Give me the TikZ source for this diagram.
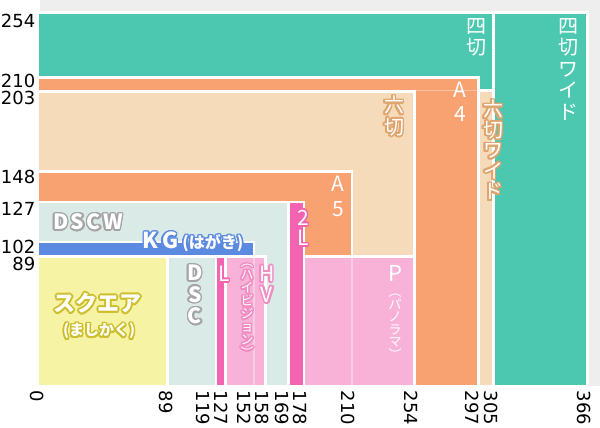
\documentclass[tikz,border=0pt]{standalone}
\usepackage{fontspec}
\setmainfont{DejaVu Sans}
\newfontfamily\jp{Noto Sans CJK JP}
\usepackage{contour}
\contourlength{1.6pt}
\contournumber{16}

\definecolor{backgrey}{RGB}{238,238,238}
\definecolor{yotsucol}{RGB}{76,200,176}
\definecolor{mutsucol}{RGB}{245,219,186}
\definecolor{acol}{RGB}{248,162,114}
\definecolor{dsccol}{RGB}{218,234,230}
\definecolor{kgcol}{RGB}{91,138,224}
\definecolor{hotpink}{RGB}{242,100,175}
\definecolor{softpink}{RGB}{248,178,215}
\definecolor{squarecol}{RGB}{246,243,165}
\definecolor{mutsuline}{RGB}{222,165,110}
\definecolor{dscline}{RGB}{165,165,165}
\definecolor{hvline}{RGB}{240,140,195}
\definecolor{squareline}{RGB}{205,190,45}

\tikzset{
  sheet/.style={draw=white, line width=2.6pt},
  ghost/.style={draw=white, line width=1.4pt, opacity=0.35},
  tick/.style={font=\fontsize{18}{18}\selectfont, inner sep=0pt},
  xtick/.style={tick, rotate=-90, anchor=west},
  ytick/.style={tick, anchor=east},
  tate/.style={align=center, inner sep=0pt, anchor=north, text=white},
  yoko/.style={inner sep=0pt, text=white},
}

\begin{document}
\begin{tikzpicture}[x=1pt, y=-1pt]
	\useasboundingbox (0,0) rectangle (600,428);
	%background
	\fill[backgrey] (40,-1) rectangle (601,386);
	
	%sheets, biggest first
	\foreach \r/\t/\c in {587.3/12.5/yotsucol, 493.2/12.5/yotsucol, 493.2/90.5/mutsucol,
		478.3/77.7/acol, 414.7/91.7/mutsucol, 352/171.7/acol, 414.7/256.7/softpink,
		304/202/hotpink, 288.3/202/dsccol, 254/242/kgcol, 265.3/256.7/softpink,
		225.7/256.7/hotpink, 216/256.7/dsccol, 167.3/256.7/squarecol}
	\draw[sheet, fill=\c] (38,386.6) rectangle (\r,\t);
	
	%hidden edges
	\draw[ghost] (414.7,90.5) -- (478.3,90.5);
	\draw[ghost] (352,256.7) -- (352,386.6);
	\draw[ghost] (254,256.7) -- (254,386.6);
	
	%y-tengely
	\foreach \lbl/\pos in {254/20.5, 210/81.2, 203/98.3, 148/176.7, 127/209, 102/246.7, 89/263.7}
	\node[ytick] (y\lbl) at (35.5,\pos) {\lbl};
	
	%x-tengely
	\foreach \lbl/\pos in {0/37.5, 89/166, 119/203.3, 127/220.7, 152/244, 158/261.7, 169/282.3,
		178/300, 210/348.3, 254/410.7, 297/472.3, 305/490.7, 366/584}
	\node[xtick] (x\lbl) at (\pos,390.7) {\lbl};
	
	%names
	\node[tate, font=\jp\fontsize{20}{21.5}\selectfont] (yotsuwide) at (568,18) {四\\切\\ワ\\イ\\ド};
	\node[tate, font=\jp\fontsize{20}{21.5}\selectfont] (yotsu) at (476,18) {四\\切};
	\node[tate, font=\jp\fontsize{21}{24}\selectfont] (afour) at (460,82) {A\\4};
	\node[tate, font=\jp\fontsize{20}{20.5}\selectfont] (mutsuwide) at (493,100)
	{\contour{mutsuline}{六}\\\contour{mutsuline}{切}\\\contour{mutsuline}{ワ}\\\contour{mutsuline}{イ}\\\contour{mutsuline}{ド}};
	\node[tate, font=\jp\fontsize{20}{21.5}\selectfont] (mutsu) at (394,96)
	{\contour{mutsuline}{六}\\\contour{mutsuline}{切}};
	\node[tate, font=\jp\fontsize{21}{25}\selectfont] (afive) at (338,176) {A\\5};
	\node[yoko, font=\jp\bfseries\fontsize{21}{21}\selectfont\addfontfeature{LetterSpace=12}] (dscw) at (88,222.7)
	{\contour{dscline}{DSCW}};
	\node[yoko, font=\jp\bfseries\fontsize{22}{22}\selectfont] (kg) at (193,243)
	{\contour{kgcol}{K\kern4pt G}\kern4pt{\fontsize{16}{16}\selectfont\contour{kgcol}{(はがき)}}};
	\node[tate, font=\jp\fontsize{21}{20.5}\selectfont] (twol) at (303,210)
	{\contour{hotpink}{2}\\\contour{hotpink}{L}};
	\node[tate, font=\jp\fontsize{22}{22}\selectfont] (pano) at (395,265) {P};
	\node[tate, font=\jp\fontsize{13}{12.5}\selectfont] (panoparen) at (395,294) {︵\\パ\\ノ\\ラ\\マ\\︶};
	\node[tate, font=\jp\fontsize{21}{21}\selectfont] (hv) at (267,266)
	{\contour{hvline}{H}\\\contour{hvline}{V}};
	\node[tate, font=\jp\fontsize{13}{13}\selectfont] (hivision) at (247,264)
	{\contourlength{1.1pt}\contour{hvline}{︵}\\\contour{hvline}{ハ}\\\contour{hvline}{イ}\\\contour{hvline}{ビ}\\\contour{hvline}{ジ}\\\contour{hvline}{ョ}\\\contour{hvline}{ン}\\\contour{hvline}{︶}};
	\node[tate, font=\jp\fontsize{21}{21}\selectfont] (ell) at (224,266) {\contour{hotpink}{L}};
	\node[tate, font=\jp\bfseries\fontsize{21}{21.5}\selectfont] (dsc) at (195,265)
	{\contour{dscline}{D}\\\contour{dscline}{S}\\\contour{dscline}{C}};
	\node[yoko, font=\jp\bfseries\fontsize{22}{22}\selectfont] (square) at (97.5,304) {\contour{squareline}{スクエア}};
	\node[yoko, font=\jp\bfseries\fontsize{15}{15}\selectfont] (mashikaku) at (99,332) {\contour{squareline}{(ましかく)}};
\end{tikzpicture}
\end{document}
